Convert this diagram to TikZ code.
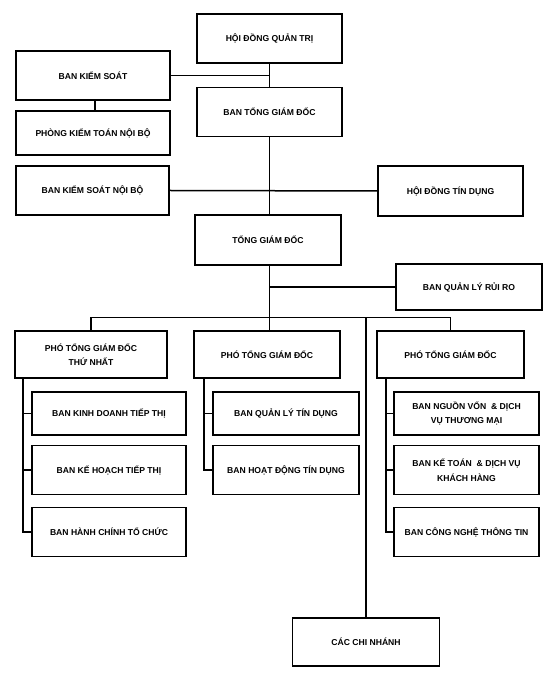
\documentclass[tikz,border=0pt]{standalone}
\usepackage{fontspec}
\setmainfont{Liberation Sans}
\begin{document}
\begin{tikzpicture}[x=0.5pt,y=-0.5pt,
  box/.style={draw, line width=0.8pt, align=center, inner sep=1pt,
    font=\fontsize{4.3}{7.2}\selectfont\bfseries},
  link/.style={line width=0.75pt}]
\useasboundingbox (0,0) rectangle (549,683);
% top part
\node[box, minimum width=72.5pt, minimum height=24.5pt] (hdqt) at (269.5,38.5) {HỘI ĐỒNG QUẢN TRỊ};
\node[box, minimum width=77pt, minimum height=24.5pt] (bks) at (93,75.5) {BAN KIỂM SOÁT};
\node[box, minimum width=72.5pt, minimum height=24.5pt] (btgd) at (269.5,112) {BAN TỔNG GIÁM ĐỐC};
\node[box, minimum width=77pt, minimum height=22pt] (pktnb) at (93,133) {PHÒNG KIỂM TOÁN NỘI BỘ};
\node[box, minimum width=76.5pt, minimum height=24.5pt] (bksnb) at (92.5,190.5) {BAN KIỂM SOÁT NỘI BỘ};
\node[box, minimum width=72.5pt, minimum height=25pt] (hdtd) at (450.5,191) {HỘI ĐỒNG TÍN DỤNG};
\node[box, minimum width=73pt, minimum height=25pt] (tgd) at (268,240) {TỔNG GIÁM ĐỐC};
\node[box, minimum width=73pt, minimum height=23pt] (bqlrr) at (469,287) {BAN QUẢN LÝ RỦI RO};
% deputies
\node[box, minimum width=76pt, minimum height=23.5pt] (p1) at (91,354.5) {PHÓ TỔNG GIÁM ĐỐC\\THỨ NHẤT};
\node[box, minimum width=73pt, minimum height=23.5pt] (p2) at (267,354.5) {PHÓ TỔNG GIÁM ĐỐC};
\node[box, minimum width=73.5pt, minimum height=23.5pt] (p3) at (450.5,354.5) {PHÓ TỔNG GIÁM ĐỐC};
% column 1
\node[box, minimum width=77pt, minimum height=21.5pt] (a1) at (109,413.5) {BAN KINH DOANH TIẾP THỊ};
\node[box, minimum width=77pt, minimum height=24.5pt] (a2) at (109,470) {BAN KẾ HOẠCH TIẾP THỊ};
\node[box, minimum width=77pt, minimum height=24.5pt] (a3) at (109,532) {BAN HÀNH CHÍNH TỔ CHỨC};
% column 2
\node[box, minimum width=73pt, minimum height=21.5pt] (b1) at (286,413.5) {BAN QUẢN LÝ TÍN DỤNG};
\node[box, minimum width=73pt, minimum height=24.5pt] (b2) at (286,470) {BAN HOẠT ĐỘNG TÍN DỤNG};
% column 3
\node[box, minimum width=72.5pt, minimum height=21.5pt] (c1) at (466.5,413.5) {BAN NGUỒN VỐN \ \& DỊCH\\VỤ THƯƠNG MẠI};
\node[box, minimum width=72.5pt, minimum height=24.5pt] (c2) at (466.5,470) {BAN KẾ TOÁN \ \& DỊCH VỤ\\KHÁCH HÀNG};
\node[box, minimum width=72.5pt, minimum height=24.5pt] (c3) at (466.5,532) {BAN CÔNG NGHỆ THÔNG TIN};
% branches
\node[box, minimum width=73.5pt, minimum height=24pt] (ccn) at (366,642) {CÁC CHI NHÁNH};
% coordinates
\coordinate (bus) at (269.5,317.5);
\coordinate (v1) at (23,0);
\coordinate (v2) at (204,0);
\coordinate (v3) at (386,0);
% connectors
\draw[link] (hdqt) -- (btgd);
\draw[link] (bks.east) -- (bks.east -| hdqt.south);
\draw[link] (bks.south -| 95,0) -- (pktnb.north -| 95,0);
\draw[link] (btgd.south) -- (btgd.south |- tgd.north);
\draw[link] (bksnb.east) -- (hdtd.west);
\draw[link] (tgd.south -| bus) -- (bus);
\draw[link] (tgd.south -| bus) ++(0,0) |- (bqlrr.west);
\draw[link] (p1.north) -- (p1.north |- bus) -- (p3.north |- bus) -- (p3.north);
\draw[link] (p2.north -| bus) -- (bus);
\draw[link] (ccn.north) -- (ccn.north |- bus);
% column links
\draw[link] (p1.south -| v1) |- (a3.west);
\draw[link] (a1.west -| v1) -- (a1.west);
\draw[link] (a2.west -| v1) -- (a2.west);
\draw[link] (p2.south -| v2) |- (b2.west);
\draw[link] (b1.west -| v2) -- (b1.west);
\draw[link] (p3.south -| v3) |- (c3.west);
\draw[link] (c1.west -| v3) -- (c1.west);
\draw[link] (c2.west -| v3) -- (c2.west);
\end{tikzpicture}
\end{document}
